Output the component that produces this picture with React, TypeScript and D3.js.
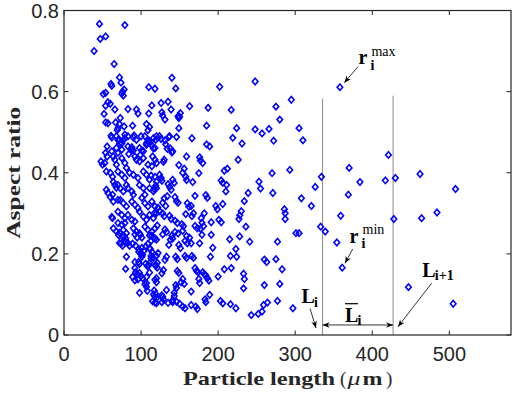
import React, { useEffect, useRef } from 'react';
import * as d3 from 'd3';

// particle length (um), aspect ratio
const upperPoints: [number, number][] = [
  [39,0.70],[46,0.767],[47,0.73],[54,0.736],[79,0.764],[65,0.668],[72,0.635],[74,0.622],[61,0.619],[62,0.614],
  [76,0.60],[77,0.59],[75,0.595],[78,0.605],[51,0.594],[54,0.597],[57,0.574],[54,0.565],[60,0.57],[52,0.545],
  [54,0.524],[57,0.522],[66,0.556],[67,0.524],[73,0.535],[72,0.52],[83,0.557],[89,0.516],[94,0.556],[96,0.546],
  [110,0.611],[118,0.607],[114,0.566],[110,0.546],[126,0.572],[135,0.575],[140,0.634],[145,0.608],[128,0.541],[131,0.531],
  [139,0.556],[148,0.539],[69,0.505],[70,0.51],[78,0.514],[111,0.513],[109,0.505],[107,0.52],[202,0.612],[248,0.625],
  [127,0.549],[151,0.547],[149,0.535],[163,0.564],[187,0.56],[217,0.555],[149,0.51],[185,0.516],[224,0.51],[248,0.507],
  [358,0.611],[295,0.58],[275,0.563],[280,0.531],[266,0.508],[305,0.51],[150,0.538],
];

const midPoints: [number, number][] = [
  [61,0.491],[79,0.494],[91,0.492],[62,0.487],[68,0.49],[72,0.481],[79,0.485],[83,0.49],[90,0.487],[94,0.481],
  [100,0.49],[105,0.49],[109,0.477],[116,0.485],[120,0.49],[70,0.481],[72,0.472],[75,0.472],[77,0.48],[56,0.465],
  [54,0.449],[56,0.44],[84,0.446],[88,0.463],[90,0.455],[99,0.444],[101,0.455],[107,0.473],[110,0.48],[119,0.481],
  [126,0.483],[131,0.48],[132,0.47],[134,0.459],[137,0.49],[48,0.428],[50,0.42],[53,0.424],[64,0.44],[66,0.432],
  [68,0.42],[124,0.49],[136,0.488],[146,0.488],[166,0.485],[219,0.486],[257,0.497],[310,0.48],[272,0.479],[231,0.472],
  [189,0.465],[185,0.47],[141,0.453],[159,0.44],[177,0.43],[180,0.424],[226,0.432],[212,0.41],[208,0.405],[156,0.41],
  [293,0.407],[421,0.444],[370,0.412],[114,0.467],[116,0.46],[138,0.46],[140,0.45],[130,0.432],[129,0.427],[115,0.44],
  [176,0.438],[149,0.419],[62,0.453],[68,0.461],[70,0.449],[75,0.457],[83,0.465],[88,0.457],[98,0.461],[103,0.453],
  [107,0.469],[111,0.473],[118,0.461],[75,0.436],[79,0.424],[81,0.412],[92,0.44],[94,0.432],[98,0.428],[103,0.436],
  [109,0.42],[114,0.416],[118,0.432],[120,0.424],[55,0.403],[60,0.40],[70,0.403],[85,0.40],[103,0.403],[462,0.397],
];

const corePoints: [number, number][] = [
  [63,0.39],[75,0.395],[79,0.387],[90,0.395],[96,0.387],[107,0.395],[111,0.383],[118,0.39],[120,0.378],[64,0.378],
  [66,0.37],[70,0.37],[73,0.362],[77,0.354],[81,0.37],[83,0.362],[88,0.354],[90,0.346],[98,0.37],[103,0.362],
  [105,0.346],[111,0.362],[116,0.354],[120,0.362],[55,0.358],[57,0.35],[60,0.34],[63,0.346],[68,0.363],[70,0.333],
  [64,0.329],[73,0.333],[77,0.325],[81,0.317],[88,0.329],[92,0.321],[96,0.313],[101,0.338],[105,0.325],[109,0.317],
  [114,0.329],[118,0.317],[62,0.291],[63,0.288],[70,0.276],[70,0.304],[75,0.296],[79,0.288],[83,0.296],[88,0.284],
  [92,0.28],[98,0.304],[103,0.292],[107,0.284],[111,0.296],[116,0.288],[120,0.30],[64,0.263],[68,0.255],[75,0.272],
  [77,0.259],[81,0.251],[90,0.263],[94,0.255],[98,0.251],[105,0.267],[109,0.259],[114,0.255],[118,0.263],[79,0.276],
  [158,0.39],[154,0.40],[159,0.382],[124,0.395],[126,0.387],[127,0.38],[113,0.393],[141,0.383],[143,0.375],[137,0.365],
  [139,0.358],[135,0.372],[119,0.368],[117,0.36],[144,0.34],[146,0.33],[148,0.326],[130,0.337],[134,0.342],[128,0.326],
  [132,0.318],[160,0.325],[162,0.316],[165,0.318],[158,0.298],[168,0.30],[166,0.293],[178,0.288],[182,0.30],[122,0.314],
  [124,0.305],[117,0.30],[128,0.30],[130,0.293],[137,0.294],[139,0.286],[144,0.282],[147,0.276],[153,0.273],[155,0.268],
  [170,0.269],[173,0.263],[179,0.277],[181,0.268],[177,0.262],[191,0.278],[201,0.284],[204,0.278],[121,0.27],[131,0.26],
  [133,0.254],[144,0.254],[148,0.25],[154,0.257],[175,0.399],[167,0.377],[206,0.375],[204,0.381],[211,0.37],[210,0.354],
  [170,0.343],[184,0.345],[186,0.338],[197,0.318],[199,0.31],[206,0.323],[234,0.33],[239,0.35],[255,0.361],[253,0.378],
  [270,0.399],[271,0.35],[230,0.305],[227,0.286],[228,0.295],[236,0.267],[286,0.31],[287,0.30],[287,0.286],[308,0.337],
  [321,0.318],[326,0.365],[334,0.39],[301,0.251],[305,0.251],[333,0.267],[339,0.255],[384,0.377],[417,0.381],[430,0.387],
  [508,0.36],[369,0.346],[359,0.294],[428,0.286],[464,0.288],[484,0.302],
];

const lowerPoints: [number, number][] = [
  [71,0.246],[78,0.244],[80,0.238],[74,0.225],[76,0.22],[83,0.227],[85,0.22],[92,0.248],[95,0.24],[99,0.247],
  [101,0.24],[89,0.225],[93,0.22],[97,0.212],[101,0.215],[104,0.208],[106,0.218],[109,0.225],[111,0.214],[111,0.245],
  [116,0.24],[120,0.235],[97,0.205],[100,0.2],[102,0.198],[112,0.212],[114,0.205],[113,0.195],[81,0.193],[97,0.18],
  [98,0.175],[106,0.176],[108,0.17],[110,0.172],[119,0.173],[121,0.178],[113,0.189],[80,0.163],[93,0.155],[95,0.15],
  [100,0.145],[102,0.14],[89,0.143],[92,0.135],[96,0.137],[111,0.154],[107,0.128],[105,0.125],[120,0.14],[98,0.104],
  [108,0.109],[116,0.1],[118,0.094],[115,0.083],[118,0.08],[120,0.078],[92,0.165],[92,0.18],[98,0.153],[101,0.193],
  [107,0.143],[107,0.119],[111,0.178],[118,0.136],[120,0.091],[127,0.081],[133,0.111],[135,0.079],[141,0.081],[143,0.104],
  [146,0.116],[72,0.252],[76,0.242],[80,0.23],[72,0.227],[114,0.245],[118,0.238],[113,0.232],[128,0.248],[138,0.235],
  [136,0.222],[140,0.245],[141,0.238],[149,0.222],[151,0.214],[157,0.232],[160,0.226],[159,0.244],[163,0.24],[165,0.226],
  [179,0.247],[191,0.247],[176,0.226],[193,0.215],[190,0.193],[215,0.236],[228,0.243],[223,0.212],[224,0.193],[216,0.195],
  [241,0.23],[122,0.202],[120,0.195],[116,0.19],[133,0.193],[131,0.185],[145,0.193],[147,0.187],[157,0.195],[159,0.19],
  [166,0.195],[168,0.19],[119,0.17],[121,0.166],[129,0.16],[127,0.152],[147,0.158],[149,0.153],[170,0.165],[172,0.158],
  [174,0.155],[180,0.155],[182,0.15],[184,0.147],[186,0.14],[188,0.134],[175,0.138],[176,0.128],[154,0.138],[152,0.13],
  [156,0.126],[145,0.123],[120,0.13],[117,0.11],[119,0.102],[127,0.098],[128,0.094],[129,0.088],[165,0.107],[165,0.074],
  [173,0.064],[171,0.07],[141,0.086],[146,0.082],[150,0.077],[154,0.07],[157,0.066],[189,0.099],[184,0.081],[183,0.088],
  [143,0.096],[208,0.162],[217,0.165],[200,0.144],[233,0.151],[234,0.138],[233,0.115],[203,0.084],[206,0.078],[216,0.076],
  [223,0.066],[243,0.049],[252,0.052],[257,0.058],[259,0.074],[264,0.08],[277,0.084],[260,0.123],[280,0.126],[283,0.162],
  [275,0.187],[263,0.18],[260,0.186],[277,0.23],[297,0.066],[354,0.228],[361,0.166],[447,0.118],[505,0.077],
];

const xTicks = [0, 100, 200, 300, 400, 500];
const yTicks = [0, 0.2, 0.4, 0.6, 0.8];
const binEdges = [335.5, 427];
const binTops = [0.583, 0.59];

// annotation arrows in data units: [from, to]
const arrows: [[number, number], [number, number]][] = [
  [[381.5, 0.6615], [363.7, 0.622]],
  [[374.6, 0.212], [364.6, 0.1768]],
  [[477.1, 0.128], [433.4, 0.0205]],
  [[319.2, 0.0653], [327, 0.0173]],
];

export default function App() {
  const svgRef = useRef<SVGSVGElement>(null);

  useEffect(() => {
    const width = 515, height = 393;
    const margin = { top: 10.5, right: 4, bottom: 58, left: 64 };
    const innerW = width - margin.left - margin.right;
    const innerH = height - margin.top - margin.bottom;

    const svg = d3.select(svgRef.current).attr('width', width).attr('height', height);
    svg.selectAll('*').remove();

    const x = d3.scaleLinear().domain([0, 580]).range([0, innerW]);
    const y = d3.scaleLinear().domain([0, 0.8]).range([innerH, 0]);

    const defs = svg.append('defs');
    defs.append('marker').attr('id', 'ah').attr('viewBox', '0 0 10 10')
      .attr('refX', 10).attr('refY', 5).attr('markerWidth', 8).attr('markerHeight', 7)
      .attr('markerUnits', 'userSpaceOnUse').attr('orient', 'auto-start-reverse')
      .append('path').attr('d', 'M0,1 L10,5 L0,9 L3,5 Z').attr('fill', '#000');

    svg.append('rect').attr('width', width).attr('height', height).attr('fill', '#fff');
    const g = svg.append('g').attr('transform', `translate(${margin.left},${margin.top})`);

    // bin lines
    g.selectAll('.bin').data(binEdges).join('line').attr('class', 'bin')
      .attr('x1', d => x(d)).attr('x2', d => x(d))
      .attr('y1', y(0)).attr('y2', (d, i) => y(binTops[i]))
      .attr('stroke', '#8a8a8a').attr('stroke-width', 1);

    // points
    const all = [...upperPoints, ...midPoints, ...corePoints, ...lowerPoints];
    g.selectAll('.pt').data(all).join('path').attr('class', 'pt')
      .attr('transform', d => `translate(${x(d[0])},${y(d[1])})`)
      .attr('d', 'M0,-3.2L2.8,0L0,3.2L-2.8,0Z')
      .attr('fill', 'none').attr('stroke', '#0000ff').attr('stroke-width', 1.6);

    // frame + ticks
    const axisColor = '#262626';
    g.append('rect').attr('width', innerW).attr('height', innerH)
      .attr('fill', 'none').attr('stroke', axisColor).attr('stroke-width', 1.2);
    const tl = 4.5;
    xTicks.forEach(t => {
      g.append('line').attr('x1', x(t)).attr('x2', x(t)).attr('y1', innerH).attr('y2', innerH - tl).attr('stroke', axisColor);
      g.append('line').attr('x1', x(t)).attr('x2', x(t)).attr('y1', 0).attr('y2', tl).attr('stroke', axisColor);
      g.append('text').attr('x', x(t)).attr('y', innerH + 26).attr('text-anchor', 'middle')
        .attr('font-family', 'Liberation Sans, Arial, sans-serif').attr('font-size', 20).attr('fill', axisColor)
        .text(String(t));
    });
    yTicks.forEach(t => {
      g.append('line').attr('x1', 0).attr('x2', tl).attr('y1', y(t)).attr('y2', y(t)).attr('stroke', axisColor);
      g.append('line').attr('x1', innerW).attr('x2', innerW - tl).attr('y1', y(t)).attr('y2', y(t)).attr('stroke', axisColor);
      g.append('text').attr('x', -5).attr('y', y(t)).attr('dy', '0.36em').attr('text-anchor', 'end')
        .attr('font-family', 'Liberation Sans, Arial, sans-serif').attr('font-size', 20).attr('fill', axisColor)
        .text(t === 0 ? '0' : t.toFixed(1));
    });

    // axis labels
    const serif = 'Liberation Serif, Times New Roman, serif';
    const xl = svg.append('g').attr('font-family', serif).attr('font-size', 19).attr('fill', '#262626');
    xl.append('text').attr('x', 183).attr('y', 385).attr('font-weight', 'bold')
      .attr('textLength', 152).attr('lengthAdjust', 'spacingAndGlyphs').text('Particle length');
    xl.append('text').attr('x', 340).attr('y', 385).text('(');
    xl.append('text').attr('x', 347.5).attr('y', 385).attr('font-style', 'italic')
      .attr('textLength', 13).attr('lengthAdjust', 'spacingAndGlyphs').text('μ');
    xl.append('text').attr('x', 362.5).attr('y', 385).attr('font-weight', 'bold')
      .attr('textLength', 20).attr('lengthAdjust', 'spacingAndGlyphs').text('m');
    xl.append('text').attr('x', 386).attr('y', 385).text(')');

    svg.append('text').attr('transform', `translate(19.5,${margin.top + innerH / 2}) rotate(-90)`)
      .attr('text-anchor', 'middle').attr('font-family', serif).attr('font-size', 19).attr('font-weight', 'bold')
      .attr('fill', '#262626').attr('textLength', 132).attr('lengthAdjust', 'spacingAndGlyphs').text('Aspect ratio');

    // annotations
    g.selectAll('.arr').data(arrows).join('line').attr('class', 'arr')
      .attr('x1', d => x(d[0][0])).attr('y1', d => y(d[0][1]))
      .attr('x2', d => x(d[1][0])).attr('y2', d => y(d[1][1]))
      .attr('stroke', '#000').attr('stroke-width', 0.8).attr('marker-end', 'url(#ah)');
    g.append('line').attr('x1', x(binEdges[0])).attr('x2', x(binEdges[1]))
      .attr('y1', y(0.0247)).attr('y2', y(0.0247))
      .attr('stroke', '#000').attr('stroke-width', 0.8)
      .attr('marker-start', 'url(#ah)').attr('marker-end', 'url(#ah)');

    const label = (px: number, py: number, main: string, sub: string, sup?: string, bar?: boolean) => {
      const t = g.append('text').attr('x', x(px)).attr('y', y(py))
        .attr('font-family', serif).attr('fill', '#000');
      t.append('tspan').attr('font-size', 20).attr('font-weight', 'bold').text(main);
      const mx = x(px);
      const w = main === 'r' ? 9 : 12.5;
      if (sup) {
        g.append('text').attr('x', mx + w + 4).attr('y', y(py) - 8.5)
          .attr('font-family', serif).attr('font-size', 14).attr('fill', '#000').text(sup);
      }
      g.append('text').attr('x', mx + w + (main === 'r' ? 3 : 0)).attr('y', y(py) + (main === 'r' ? 5.5 : 3.5))
        .attr('font-family', serif).attr('font-size', 14).attr('font-weight', 'bold').attr('fill', '#000').text(sub);
      if (bar) {
        g.append('line').attr('x1', mx).attr('x2', mx + 13).attr('y1', y(py) - 18).attr('y2', y(py) - 18)
          .attr('stroke', '#000').attr('stroke-width', 1.2);
      }
    };
    label(382, 0.667, 'r', 'i', 'max');
    label(370.5, 0.227, 'r', 'i', 'min');
    label(465, 0.143, 'L', 'i+1');
    label(364.6, 0.0328, 'L', 'i', undefined, true);
    label(308.2, 0.0777, 'L', 'i');
  }, []);

  return (
    <div style={{ position: 'absolute', left: 0, top: 0 }}>
      <svg ref={svgRef} style={{ display: 'block' }} />
    </div>
  );
}
